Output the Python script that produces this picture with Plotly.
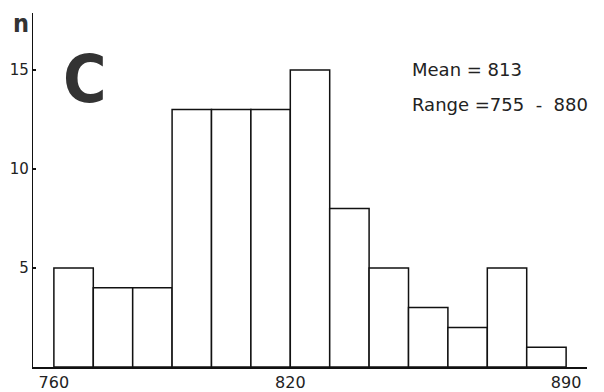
import plotly.graph_objects as go

bin_starts = [760, 770, 780, 790, 800, 810, 820, 830, 840, 850, 860, 870, 880]
counts = [5, 4, 4, 13, 13, 13, 15, 8, 5, 3, 2, 5, 1]
bin_width = 10
x_ticks = [760, 820, 890]
y_ticks = [5, 10, 15]
mean_text = "Mean&nbsp;=&nbsp;813"
range_text = "Range&nbsp;=755&nbsp;&nbsp;-&nbsp;&nbsp;880"

centers = [s + bin_width / 2 for s in bin_starts]

fig = go.Figure()
fig.add_trace(go.Bar(
    x=centers, y=counts, width=[bin_width] * len(counts),
    marker=dict(color="white", line=dict(color="#111", width=1.5)),
    hoverinfo="skip",
))

H = 367 - 13  # plot height in px (t=13)
def py(pix):
    return (367 - pix) / H

fig.update_layout(
    width=604, height=392,
    margin=dict(l=33, r=17, t=13, b=25),
    paper_bgcolor="white", plot_bgcolor="white",
    showlegend=False,
    font=dict(family="DejaVu Sans, sans-serif", color="#222"),
    xaxis=dict(range=[754.7, 895.3], tickvals=x_ticks, ticktext=[str(v) for v in x_ticks],
               automargin=False,
               showgrid=False, zeroline=False, showline=True, linecolor="#111", linewidth=1.5,
               ticks="", tickfont=dict(size=16, color="#222")),
    yaxis=dict(range=[0, 17.88], tickvals=y_ticks, ticktext=[str(v) for v in y_ticks],
               automargin=False,
               showgrid=False, zeroline=False, showline=True, linecolor="#111", linewidth=1.2,
               ticks="inside", ticklen=3, tickwidth=2, tickcolor="#111",
               tickfont=dict(size=15, color="#222")),
    annotations=[
        dict(text="<b>n</b>", xref="paper", yref="paper", x=-0.04, y=py(24), xanchor="left",
             yanchor="middle", showarrow=False,
             font=dict(size=25, family="DejaVu Sans Condensed, sans-serif", color="#333")),
        dict(text="<b>C</b>", xref="paper", yref="paper", x=0.05, y=py(80), xanchor="left",
             yanchor="middle", showarrow=False,
             font=dict(size=66, family="DejaVu Sans Condensed, sans-serif", color="#333")),
        dict(text=mean_text, xref="paper", yref="paper", x=0.68, y=py(69), xanchor="left",
             yanchor="middle", showarrow=False, font=dict(size=18, color="#222")),
        dict(text=range_text, xref="paper", yref="paper", x=0.68, y=py(104), xanchor="left",
             yanchor="middle", showarrow=False, font=dict(size=18, color="#222")),
    ],
)

fig.write_html("out.html")
